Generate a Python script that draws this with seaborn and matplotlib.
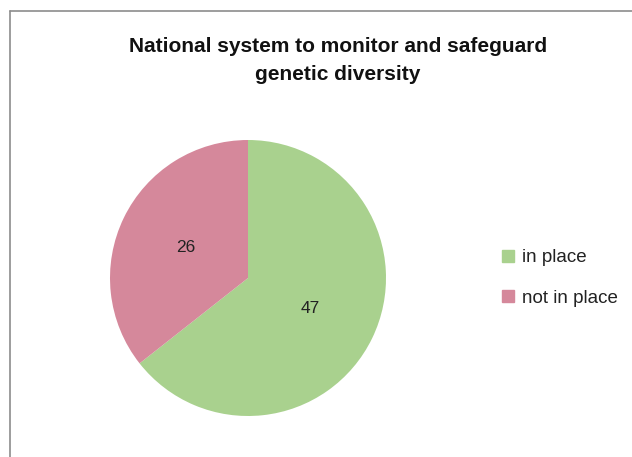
# Pie chart: national system to monitor and safeguard genetic diversity
import matplotlib
matplotlib.use("Agg")
import matplotlib.pyplot as plt
from matplotlib.lines import Line2D
import seaborn as sns

# Data
categories = ["in place", "not in place"]
counts = [47, 26]
colors = ["#A9D18E", "#D5889B"]

sns.set_theme(style="white")
plt.rcParams['font.family'] = ['Liberation Sans', 'DejaVu Sans']

fig = plt.figure(figsize=(6.32, 4.57), dpi=100)
fig.patch.set_facecolor("white")

# Pie axes placed where the pie sits in the reference
W, H = 632, 457
cx, cy, r = 248, 278, 138
ax = fig.add_axes([(cx - r) / W, (H - cy - r) / H, 2 * r / W, 2 * r / H])

wedges, texts, autotexts = ax.pie(
    counts,
    colors=sns.color_palette(colors),
    startangle=90,
    counterclock=False,
    autopct=lambda p: "{:.0f}".format(p * sum(counts) / 100),
    pctdistance=0.5,
    wedgeprops=dict(linewidth=0),
    textprops=dict(fontsize=12.5, color="#222222"),
)
ax.set_xlim(-1, 1)
ax.set_ylim(-1, 1)
ax.set_aspect("equal")

# Title
fig.text(338 / W, 1 - 60 / H, "National system to monitor and safeguard\ngenetic diversity",
         ha="center", va="center", fontsize=15, fontweight="bold",
         color="#111111", linespacing=1.6)

# Legend with square markers
handles = [Line2D([0], [0], marker="s", linestyle="none", markersize=9,
                  markerfacecolor=c, markeredgecolor=c) for c in colors]
fig.legend(handles, categories, loc="center left",
           bbox_to_anchor=(482 / W, 1 - 278 / H), frameon=False,
           fontsize=13.5, handletextpad=0.25, labelspacing=1.25,
           handlelength=1.0, labelcolor="#222222")

# Partial gray frame (left and top edges) like the screenshot
fig.add_artist(Line2D([10.5 / W, 10.5 / W], [0, 1 - 11 / H], color="#8c8c8c", lw=1.2,
                      transform=fig.transFigure))
fig.add_artist(Line2D([10.5 / W, 1], [1 - 11 / H, 1 - 11 / H], color="#8c8c8c", lw=1.2,
                      transform=fig.transFigure))

plt.savefig("out.png", dpi=100)
